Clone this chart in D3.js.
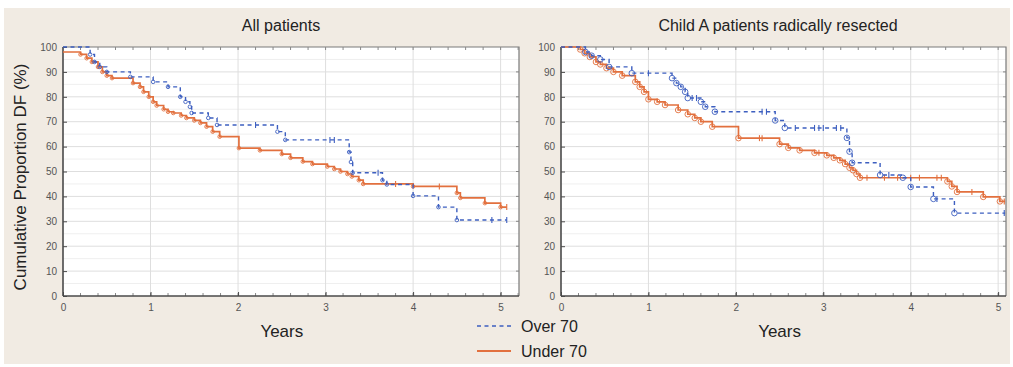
<!DOCTYPE html>
<html>
<head>
<meta charset="utf-8">
<script src="https://cdn.jsdelivr.net/npm/d3@7"></script>
<style>
  body { margin: 0; background: #fff; }
  svg { display: block; font-family: Arial, "Liberation Sans", sans-serif; }
</style>
</head>
<body>
<svg id="chart" width="1013" height="367"></svg>
<script>
// step data: [years, cumulative proportion %]
const allOver70 = [[0,100],[0.31,97],[0.36,94],[0.42,92],[0.5,90],[0.77,88],[1.03,86],[1.2,84],[1.34,80],[1.4,78],[1.45,76],[1.47,73.5],[1.66,71.5],[1.76,68.7],[2.45,66],[2.54,62.7],[3.27,57.8],[3.29,53.8],[3.31,49.5],[3.65,46.5],[3.7,44.8],[4.0,40.2],[4.29,35.7],[4.5,30.5]];
const allUnder70 = [[0,98],[0.2,97],[0.27,95.5],[0.33,94],[0.4,92],[0.45,90],[0.5,88.5],[0.56,87.5],[0.8,85.5],[0.88,84],[0.92,82],[0.98,80],[1.03,78],[1.07,76.5],[1.15,75],[1.2,74],[1.26,73.5],[1.35,72.5],[1.41,71.5],[1.5,70.5],[1.57,69.5],[1.64,68],[1.71,66],[1.79,64],[2.01,59.4],[2.25,58.5],[2.5,57],[2.6,55.5],[2.74,54],[2.85,53],[3.02,52],[3.1,51],[3.17,50],[3.25,49],[3.3,48],[3.38,46.5],[3.43,45],[4.0,44],[4.5,41.4],[4.54,39.4],[4.82,37.3],[5.0,35.7]];
const childOver70 = [[0,100],[0.28,98],[0.35,96.5],[0.45,95],[0.55,92],[0.81,89.5],[1.27,87.5],[1.32,85.5],[1.37,84],[1.42,82],[1.45,79.5],[1.6,78],[1.65,76],[1.76,74],[2.45,70.5],[2.56,67.5],[3.27,63.5],[3.3,58],[3.33,53.5],[3.65,48.6],[3.91,47.5],[4.0,43.8],[4.26,39],[4.5,33.3]];
const childUnder70 = [[0,100],[0.22,99],[0.27,97.5],[0.33,96],[0.4,94],[0.45,93],[0.52,91.5],[0.6,90],[0.7,88.5],[0.85,86],[0.9,84],[0.95,82],[1.0,79],[1.1,78],[1.19,76.7],[1.34,74.7],[1.45,73],[1.53,71.5],[1.6,70],[1.73,68],[2.03,63.4],[2.5,61],[2.6,59.5],[2.73,58.5],[2.9,57.5],[3.04,56.5],[3.12,55.5],[3.19,54.5],[3.25,53],[3.3,51.5],[3.34,50.5],[3.38,49],[3.42,47.5],[4.42,46],[4.47,44],[4.53,41.8],[4.83,39.8],[5.02,38]];

// censored times
const allOver70Cens = [2.2, 3.05, 3.1, 3.6, 4.9, 5.07];
const allUnder70Cens = [3.8, 4.3, 5.07];
const childOver70Cens = [1.0, 1.5, 1.55, 2.3, 2.35, 2.68, 2.9, 2.95, 3.0, 3.15, 3.2, 3.75, 4.3, 5.07];
const childUnder70Cens = [2.27, 2.3, 2.95, 3.5, 3.7, 3.85, 4.0, 4.1, 4.3, 4.35, 4.7, 5.07];

const panelTitles = ["All patients", "Child A patients radically resected"];
const yTicks = [0, 10, 20, 30, 40, 50, 60, 70, 80, 90, 100];
const xTicks = [0, 1, 2, 3, 4, 5];
const legendLabels = ["Over 70", "Under 70"];

const blue = "#3d5fc0";
const orange = "#e2703e";

const svg = d3.select("#chart");

// beige backdrop
svg.append("rect")
  .attr("x", 4).attr("y", 8)
  .attr("width", 1006).attr("height", 356)
  .attr("fill", "#f1ebe3");

const plotTop = 47, plotBottom = 296;
const panels = [
  { left: 63, right: 519, xMax: 5.21, title: panelTitles[0], titleX: 281, over: allOver70, under: allUnder70,
    overCens: allOver70Cens, underCens: allUnder70Cens, end: 5.07, r: 1.8 },
  { left: 561, right: 1006, xMax: 5.09, title: panelTitles[1], titleX: 778, over: childOver70, under: childUnder70,
    overCens: childOver70Cens, underCens: childUnder70Cens, end: 5.08, r: 2.8 }
];

function stepValue(data, t) {
  let v = data[0][1];
  data.forEach(d => { if (d[0] <= t) v = d[1]; });
  return v;
}

panels.forEach(p => {
  const x = d3.scaleLinear().domain([0, p.xMax]).range([p.left, p.right]);
  const y = d3.scaleLinear().domain([0, 100]).range([plotBottom, plotTop]);
  const g = svg.append("g");

  g.append("rect")
    .attr("x", p.left).attr("y", plotTop)
    .attr("width", p.right - p.left).attr("height", plotBottom - plotTop)
    .attr("fill", "#fff");

  // grid
  g.selectAll(".hminor")
    .data(d3.range(5, 100, 10))
    .enter().append("line")
    .attr("x1", p.left).attr("x2", p.right)
    .attr("y1", d => y(d)).attr("y2", d => y(d))
    .attr("stroke", "#efefef");
  g.selectAll(".hgrid")
    .data(yTicks.slice(1, -1))
    .enter().append("line")
    .attr("x1", p.left).attr("x2", p.right)
    .attr("y1", d => y(d)).attr("y2", d => y(d))
    .attr("stroke", "#dedede");
  g.selectAll(".vgrid")
    .data(xTicks.slice(1))
    .enter().append("line")
    .attr("x1", d => x(d)).attr("x2", d => x(d))
    .attr("y1", plotTop).attr("y2", plotBottom)
    .attr("stroke", "#dedede");

  // frame top/right
  g.append("path")
    .attr("d", `M${p.left},${plotTop}H${p.right}V${plotBottom}`)
    .attr("fill", "none").attr("stroke", "#7a7a7a").attr("stroke-width", 1.2);

  // minor ticks on top/bottom, right
  const minor = d3.range(0.2, p.xMax, 0.2);
  g.selectAll(".mtb")
    .data(minor)
    .enter().append("line")
    .attr("x1", d => x(d)).attr("x2", d => x(d))
    .attr("y1", plotBottom).attr("y2", plotBottom - 3)
    .attr("stroke", "#888");
  g.selectAll(".mtt")
    .data(minor)
    .enter().append("line")
    .attr("x1", d => x(d)).attr("x2", d => x(d))
    .attr("y1", plotTop).attr("y2", plotTop + 3)
    .attr("stroke", "#888");
  g.selectAll(".mtr")
    .data(yTicks.slice(1, -1))
    .enter().append("line")
    .attr("x1", p.right).attr("x2", p.right - 3)
    .attr("y1", d => y(d)).attr("y2", d => y(d))
    .attr("stroke", "#888");

  // axes
  const ax = g.append("g")
    .attr("transform", `translate(0,${plotBottom})`)
    .call(d3.axisBottom(x).tickValues(xTicks).tickSize(-4).tickPadding(8).tickFormat(d3.format("d")));
  const ay = g.append("g")
    .attr("transform", `translate(${p.left},0)`)
    .call(d3.axisLeft(y).tickValues(yTicks).tickSize(-4).tickPadding(6));
  [ax, ay].forEach(a => {
    a.select(".domain").attr("stroke", "#4a4a4a").attr("stroke-width", 1.6);
    a.selectAll(".tick line").attr("stroke", "#4a4a4a");
    a.selectAll("text").attr("fill", "#555").style("font-size", "10px")
      .style("font-family", "Arial, 'Liberation Sans', sans-serif");
  });
  ax.select(".domain").attr("d", `M${p.left},0H${p.right}`);
  ay.select(".domain").attr("d", `M0,${plotTop}V${plotBottom}`);

  // curves
  const line = d3.line()
    .x(d => x(d[0])).y(d => y(d[1]))
    .curve(d3.curveStepAfter);

  const series = [
    { data: p.under, cens: p.underCens, color: orange, dash: null, w: 1.7 },
    { data: p.over, cens: p.overCens, color: blue, dash: "4,3.5", w: 1.4 }
  ];
  series.forEach(s => {
    const pts = s.data.concat([[p.end, s.data[s.data.length - 1][1]]]);
    g.append("path")
      .datum(pts)
      .attr("fill", "none")
      .attr("stroke", s.color)
      .attr("stroke-width", s.w)
      .attr("stroke-dasharray", s.dash)
      .attr("d", line);
    // event markers
    g.selectAll(null)
      .data(s.data.slice(1))
      .enter().append("circle")
      .attr("cx", d => x(d[0]))
      .attr("cy", d => y(d[1]))
      .attr("r", p.r)
      .attr("fill", "none")
      .attr("stroke", s.color)
      .attr("stroke-width", 0.9);
    // censor ticks
    g.selectAll(null)
      .data(s.cens)
      .enter().append("line")
      .attr("x1", d => x(d)).attr("x2", d => x(d))
      .attr("y1", d => y(stepValue(s.data, d)) - 3)
      .attr("y2", d => y(stepValue(s.data, d)) + 3)
      .attr("stroke", s.color)
      .attr("stroke-width", 1.1);
  });

  // titles
  svg.append("text")
    .attr("x", p.titleX)
    .attr("y", 31)
    .attr("text-anchor", "middle")
    .attr("fill", "#222")
    .style("font-size", "16px")
    .text(p.title);

  svg.append("text")
    .attr("x", x(2.5))
    .attr("y", 337)
    .attr("text-anchor", "middle")
    .attr("fill", "#222")
    .style("font-size", "17px")
    .text("Years");
});

// y label
svg.append("text")
  .attr("transform", "translate(26,177) rotate(-90)")
  .attr("text-anchor", "middle")
  .attr("fill", "#222")
  .style("font-size", "17px")
  .text("Cumulative Proportion DF (%)");

// legend
const legend = svg.append("g");
legendLabels.forEach((lab, i) => {
  const ly = 326 + i * 25;
  legend.append("line")
    .attr("x1", 477).attr("x2", 511)
    .attr("y1", ly).attr("y2", ly)
    .attr("stroke", i === 0 ? blue : orange)
    .attr("stroke-width", i === 0 ? 1.6 : 1.8)
    .attr("stroke-dasharray", i === 0 ? "4,3.5" : null);
  legend.append("text")
    .attr("x", 521).attr("y", ly + 6)
    .attr("fill", "#222")
    .style("font-size", "16px")
    .text(lab);
});
</script>
</body>
</html>
